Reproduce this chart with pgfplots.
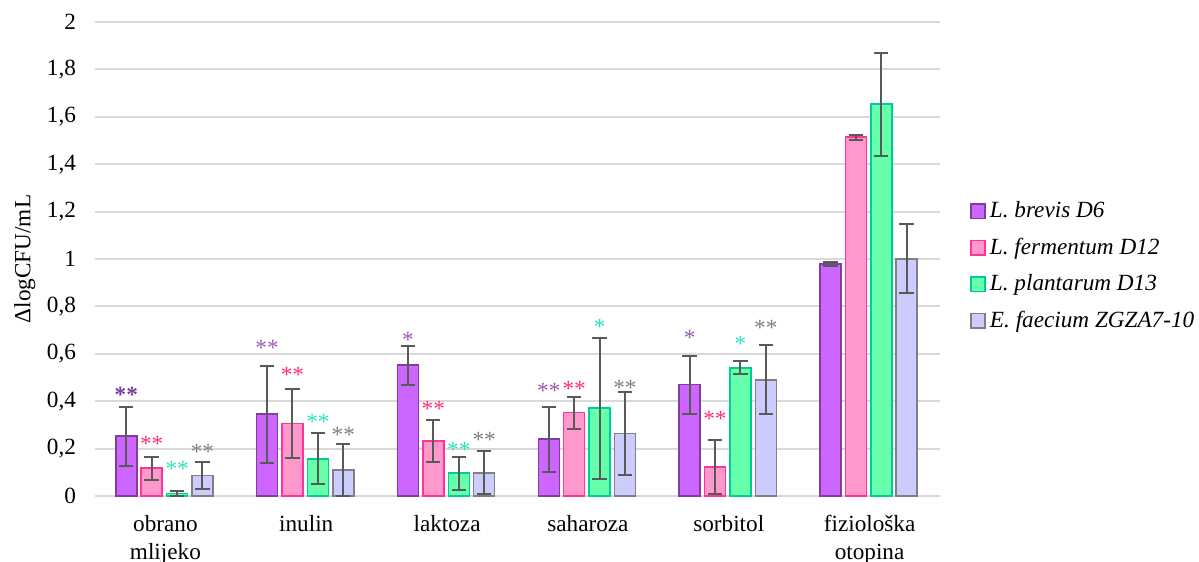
\documentclass[border=0pt]{standalone}
\usepackage{pgfplots}
\pgfplotsset{compat=1.18}
\usepackage{pgfplotstable}
\usepackage{fontspec}
\setmainfont{Liberation Serif}

\definecolor{brevF}{HTML}{CC66FF}
\definecolor{brevD}{HTML}{7F3F98}
\definecolor{fermF}{HTML}{FF99CC}
\definecolor{fermD}{HTML}{FF3399}
\definecolor{plantF}{HTML}{66FFAA}
\definecolor{plantD}{HTML}{00CC99}
\definecolor{faecF}{HTML}{CCCCFF}
\definecolor{faecD}{HTML}{808080}
\definecolor{errc}{HTML}{595959}
\definecolor{gridc}{HTML}{D9D9D9}
\definecolor{astB}{HTML}{9B59B6}
\definecolor{astBd}{HTML}{7A3D96}
\definecolor{astF}{HTML}{FF2E78}
\definecolor{astP}{HTML}{2EE0BC}
\definecolor{astE}{HTML}{7F7F7F}

\pgfplotstableread{
x y ep em
0 0.253 0.122 0.126
1 0.346 0.204 0.206
2 0.553 0.081 0.083
3 0.240 0.137 0.139
4 0.470 0.121 0.123
5 0.979 0.010 0.010
}\brevis
\pgfplotstableread{
x y ep em
0 0.118 0.047 0.051
1 0.305 0.146 0.145
2 0.233 0.089 0.091
3 0.352 0.067 0.071
4 0.122 0.113 0.112
5 1.515 0.010 0.011
}\fermentum
\pgfplotstableread{
x y ep em
0 0.011 0.010 0.011
1 0.157 0.108 0.108
2 0.096 0.067 0.071
3 0.371 0.297 0.299
4 0.541 0.027 0.025
5 1.653 0.216 0.217
}\plantarum
\pgfplotstableread{
x y ep em
0 0.087 0.056 0.056
1 0.110 0.111 0.110
2 0.098 0.093 0.090
3 0.263 0.176 0.174
4 0.489 0.148 0.143
5 1.001 0.146 0.143
}\faecium

\newcommand{\fs}{\fontsize{11.6}{14}\selectfont}

\begin{document}
\begin{tikzpicture}
\begin{axis}[
  at={(0,0)}, anchor=south west,
  scale only axis,
  width=422.5pt, height=237pt,
  xmin=-0.5, xmax=5.5,
  ymin=0, ymax=2,
  ytick={0,0.2,...,2.01},
  xtick={0,1,2,3,4,5},
  xticklabels={obrano\\mlijeko, inulin, laktoza, saharoza, sorbitol, fiziološka\\otopina},
  axis line style={draw=none},
  major tick length=0pt,
  ymajorgrids,
  major grid style={gridc, line width=1pt},
  /pgf/number format/use comma,
  /pgf/number format/fixed,
  /pgf/number format/assume math mode=true,
  yticklabel style={font=\fs, anchor=east, xshift=-6pt},
  xticklabel style={font=\fs, align=center, anchor=north, yshift=-6pt},
  every axis y label/.style={at={(axis description cs:-0.083,0.5)}, rotate=90, anchor=center, font=\fs},
  ylabel={ΔlogCFU/mL},
  error bars/y dir=both,
  error bars/y explicit,
  error bars/error bar style={errc, line width=1pt},
  error bars/error mark options={errc, rotate=90, mark size=3.6pt, line width=1pt},
  legend cell align=left,
  legend style={draw=none, fill=none, font=\fs\itshape,
    at={(axis description cs:1.035,0.63)}, anchor=north west,
    row sep=4.6pt, inner sep=0pt},
  legend image code/.code={\draw[#1, line width=0.8pt] (0pt,-3.6pt) rectangle (7.2pt,3.6pt);},
  every node near coord/.append style={font=\fontsize{11.6}{14}\selectfont, anchor=center, yshift=-1.8pt, inner sep=0pt},
]
\addplot[ybar, bar width=0.149, bar shift=0, fill=brevF, draw=brevD, line width=0.75pt]
  table[x expr=\thisrow{x}-0.278, y=y, y error plus=ep, y error minus=em]{\brevis};
\addlegendentry{L. brevis D6}
\addplot[ybar, bar width=0.149, bar shift=0, fill=fermF, draw=fermD, line width=0.75pt]
  table[x expr=\thisrow{x}-0.098, y=y, y error plus=ep, y error minus=em]{\fermentum};
\addlegendentry{L. fermentum D12}
\addplot[ybar, bar width=0.149, bar shift=0, fill=plantF, draw=plantD, line width=0.75pt]
  table[x expr=\thisrow{x}+0.083, y=y, y error plus=ep, y error minus=em]{\plantarum};
\addlegendentry{L. plantarum D13}
\addplot[ybar, bar width=0.149, bar shift=0, fill=faecF, draw=faecD, line width=0.75pt]
  table[x expr=\thisrow{x}+0.263, y=y, y error plus=ep, y error minus=em]{\faecium};
\addlegendentry{E. faecium ZGZA7-10}

% significance asterisks
\addplot[forget plot, only marks, mark=none, nodes near coords, point meta=explicit symbolic,
  every node near coord/.append style={text=astBd, font=\fontsize{11.6}{14}\selectfont\bfseries}]
  coordinates {(-0.278,0.443)[**]};
\addplot[forget plot, only marks, mark=none, nodes near coords, point meta=explicit symbolic,
  every node near coord/.append style={text=astB}]
  coordinates {(0.722,0.641)[**] (1.722,0.675)[*] (2.722,0.459)[**] (3.722,0.684)[*]};
\addplot[forget plot, only marks, mark=none, nodes near coords, point meta=explicit symbolic,
  every node near coord/.append style={text=astF}]
  coordinates {(-0.098,0.233)[**] (0.902,0.525)[**] (1.902,0.384)[**] (2.902,0.468)[**] (3.902,0.342)[**]};
\addplot[forget plot, only marks, mark=none, nodes near coords, point meta=explicit symbolic,
  every node near coord/.append style={text=astP}]
  coordinates {(0.083,0.128)[**] (1.083,0.328)[**] (2.083,0.211)[**] (3.083,0.729)[*] (4.083,0.658)[*]};
\addplot[forget plot, only marks, mark=none, nodes near coords, point meta=explicit symbolic,
  every node near coord/.append style={text=astE}]
  coordinates {(0.263,0.203)[**] (1.263,0.271)[**] (2.263,0.251)[**] (3.263,0.471)[**] (4.263,0.723)[**]};
\end{axis}
\pgfresetboundingbox
\path (-47.5pt,-33pt) rectangle (552pt,248pt);
\end{tikzpicture}
\end{document}
